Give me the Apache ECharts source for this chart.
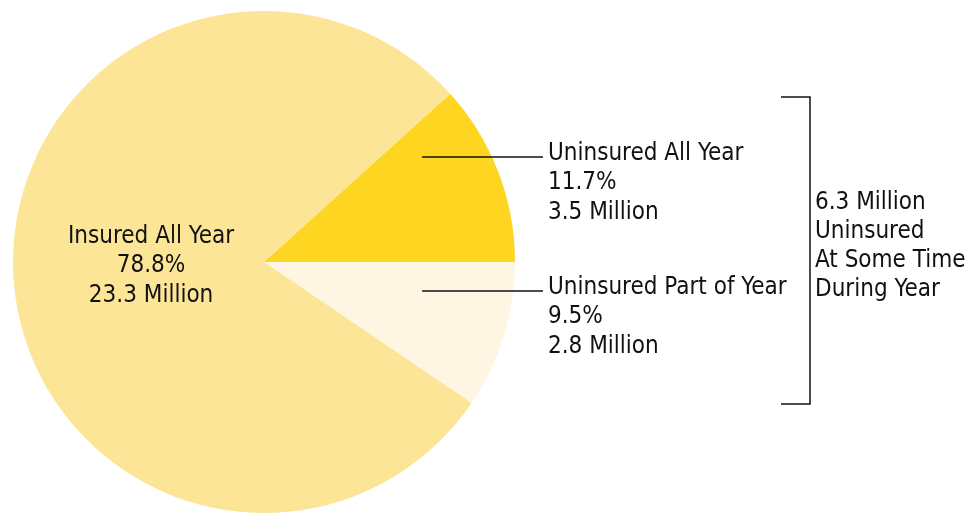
<!DOCTYPE html>
<html>
<head>
<meta charset="utf-8">
<script src="https://cdn.jsdelivr.net/npm/echarts@6/dist/echarts.min.js"></script>
<style>
  html, body { margin: 0; padding: 0; background: #fff; }
  #main { width: 978px; height: 514px; }
</style>
</head>
<body>
<div id="main"></div>
<script>
// data
var categories = ['Uninsured All Year', 'Uninsured Part of Year', 'Insured All Year'];
var percents = [11.7, 9.5, 78.8];
var millions = [3.5, 2.8, 23.3];
var colors = ['#FED520', '#FFF5E3', '#FDE598'];
var bracketLines = ['Uninsured', 'At Some Time', 'During Year'];

var FONT = '"Liberation Sans Narrow", "DejaVu Sans Condensed", "Roboto Condensed", sans-serif';
var cx = 264, cy = 262, r = 251;

var chart = echarts.init(document.getElementById('main'));

function makeData(withColor) {
  return categories.map(function (name, i) {
    return {
      name: name,
      value: percents[i],
      millions: millions[i],
      itemStyle: { color: withColor ? colors[i] : 'rgba(0,0,0,0)' },
      label: { show: !withColor, position: i === 2 ? 'inside' : 'outside' },
      labelLine: { show: !withColor && i !== 2 }
    };
  });
}

var uninsuredTotal = (millions[0] + millions[1]).toFixed(1);

var pieBase = {
  type: 'pie',
  center: [cx, cy],
  radius: [0, r],
  startAngle: percents[0] * 3.6,
  clockwise: true,
  silent: true
};

chart.setOption({
  animation: false,
  series: [
    // the slices
    Object.assign({}, pieBase, { z: 2, data: makeData(true) }),
    // labels and leader lines, on top of the slices
    Object.assign({}, pieBase, {
      z: 5,
      data: makeData(false),
      label: {
        color: '#111',
        fontFamily: FONT,
        fontSize: 24,
        lineHeight: 29.5,
        formatter: function (p) {
          return p.name + '\n' + p.value.toFixed(1) + '%\n' + p.data.millions.toFixed(1) + ' Million';
        }
      },
      labelLine: {
        lineStyle: { color: '#111', width: 1.5 }
      },
      labelLayout: function (p) {
        if (p.dataIndex === 2) {
          return { x: cx - 0.45 * r, y: cy + 4, align: 'center', verticalAlign: 'middle' };
        }
        var lineY = p.dataIndex === 0 ? 157 : 291;
        var x0 = cx + 0.63 * r, x1 = 543;
        return {
          x: 548, y: lineY + 26, align: 'left', verticalAlign: 'middle',
          labelLinePoints: [[x0, lineY], [x1, lineY], [x1, lineY]]
        };
      }
    })
  ],
  graphic: [
    {
      type: 'polyline',
      shape: { points: [[781, 97], [810, 97], [810, 404], [781, 404]] },
      style: { stroke: '#111', lineWidth: 1.5, fill: null }
    },
    {
      type: 'text',
      left: 815,
      top: 188,
      style: {
        text: uninsuredTotal + ' Million\n' + bracketLines.join('\n'),
        font: '24px ' + FONT,
        lineHeight: 29,
        fill: '#111'
      }
    }
  ]
});
</script>
</body>
</html>
